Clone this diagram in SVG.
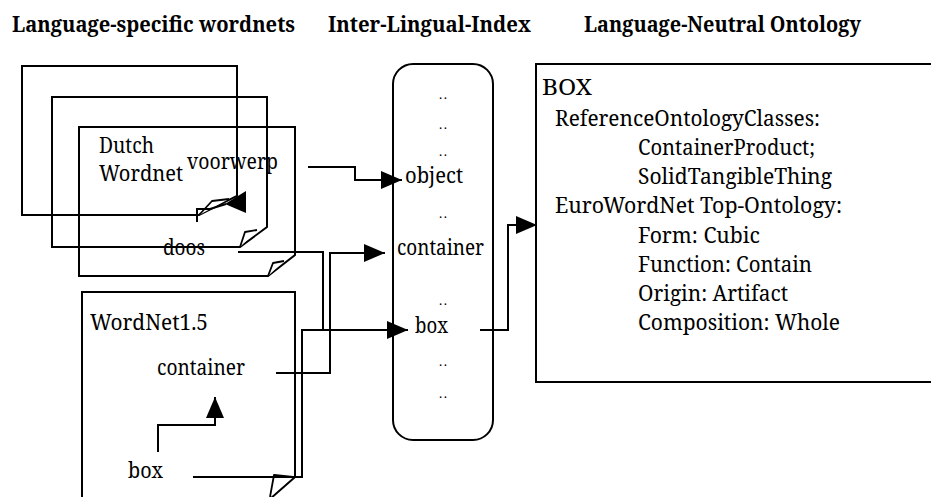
<svg xmlns="http://www.w3.org/2000/svg" width="931" height="497" viewBox="0 0 931 497">
<defs>
<style>
text{font-family:"Noto Serif","DejaVu Serif",serif;font-size:21.5px;fill:#000}
.hd{font-weight:bold;font-size:21px}
.dots{font-size:13px}
.ln{fill:none;stroke:#000;stroke-width:2}
.flap{fill:#fff;stroke:#000;stroke-width:1.8;stroke-linejoin:round}
</style>
<marker id="ah" markerUnits="userSpaceOnUse" markerWidth="22" markerHeight="20" refX="21" refY="10" orient="auto">
<path d="M0,1 L21,10 L0,19 Z" fill="#000"/>
</marker>
</defs>
<rect width="931" height="497" fill="#fff"/>

<g id="headers">
<text class="hd" x="12" y="32" textLength="283" lengthAdjust="spacingAndGlyphs">Language-specific wordnets</text>
<text class="hd" x="328" y="32" textLength="203" lengthAdjust="spacingAndGlyphs">Inter-Lingual-Index</text>
<text class="hd" x="584" y="32" textLength="277" lengthAdjust="spacingAndGlyphs">Language-Neutral Ontology</text>
</g>

<g id="dutch-wordnet">
<path class="ln" d="M22,66 H237 V196 L199,215 H22 Z"/>
<polyline class="flap" points="199,215 212,201 229,199"/>
<path class="ln" d="M52,97 H267 V227 L240,247 H52 Z"/>
<polyline class="flap" points="240,247 245,232 257,230"/>
<path class="ln" d="M79,127 H295 V255 L268,276 H79 Z"/>
<polyline class="flap" points="268,276 273,263 284,261"/>
<text x="99" y="153" textLength="55" lengthAdjust="spacingAndGlyphs">Dutch</text>
<text x="99" y="181" textLength="84" lengthAdjust="spacingAndGlyphs">Wordnet</text>
<text x="187" y="169" textLength="91" lengthAdjust="spacingAndGlyphs">voorwerp</text>
<text x="163" y="255" textLength="42" lengthAdjust="spacingAndGlyphs">doos</text>
</g>

<g id="wordnet15">
<path class="ln" d="M82,499 V292 H295 V477 L270,499"/>
<polyline class="flap" points="270,497 274,475 293,477"/>
<text x="90" y="330" textLength="118" lengthAdjust="spacingAndGlyphs">WordNet1.5</text>
<text x="157" y="375" textLength="88" lengthAdjust="spacingAndGlyphs">container</text>
<text x="128" y="478" textLength="35" lengthAdjust="spacingAndGlyphs">box</text>
</g>

<g id="ili">
<rect class="ln" x="393" y="64" width="100" height="376" rx="20" ry="20"/>
<text class="dots" x="439" y="99" textLength="8" lengthAdjust="spacing">..</text>
<text class="dots" x="439" y="129" textLength="8" lengthAdjust="spacing">..</text>
<text class="dots" x="439" y="156" textLength="8" lengthAdjust="spacing">..</text>
<text x="405" y="183" textLength="58" lengthAdjust="spacingAndGlyphs">object</text>
<text class="dots" x="439" y="218" textLength="8" lengthAdjust="spacing">..</text>
<text x="397" y="255" textLength="87" lengthAdjust="spacingAndGlyphs">container</text>
<text class="dots" x="439" y="305" textLength="8" lengthAdjust="spacing">..</text>
<text x="415" y="333" textLength="33" lengthAdjust="spacingAndGlyphs">box</text>
<text class="dots" x="439" y="366" textLength="8" lengthAdjust="spacing">..</text>
<text class="dots" x="439" y="398" textLength="8" lengthAdjust="spacing">..</text>
</g>

<g id="ontology">
<rect class="ln" x="536" y="64" width="420" height="318"/>
<text x="542" y="95" textLength="50" lengthAdjust="spacingAndGlyphs">BOX</text>
<text x="555" y="126" textLength="265" lengthAdjust="spacingAndGlyphs">ReferenceOntologyClasses:</text>
<text x="638" y="155" textLength="177" lengthAdjust="spacingAndGlyphs">ContainerProduct;</text>
<text x="638" y="184" textLength="194" lengthAdjust="spacingAndGlyphs">SolidTangibleThing</text>
<text x="555" y="213" textLength="287" lengthAdjust="spacingAndGlyphs">EuroWordNet Top-Ontology:</text>
<text x="638" y="243" textLength="122" lengthAdjust="spacingAndGlyphs">Form: Cubic</text>
<text x="638" y="272" textLength="174" lengthAdjust="spacingAndGlyphs">Function: Contain</text>
<text x="638" y="301" textLength="150" lengthAdjust="spacingAndGlyphs">Origin: Artifact</text>
<text x="638" y="330" textLength="202" lengthAdjust="spacingAndGlyphs">Composition: Whole</text>
</g>

<g id="connectors">
<path class="ln" d="M197,222 V209 H210 L226,204"/>
<polygon points="246,191 246,213 225,204" fill="#000"/>
<path class="ln" d="M308,167 H355 V180 H402" marker-end="url(#ah)"/>
<path class="ln" d="M238,252 H323 V330"/>
<path class="ln" d="M276,373 H330 V253 H385" marker-end="url(#ah)"/>
<path class="ln" d="M193,477 H302 V330 H408" marker-end="url(#ah)"/>
<path class="ln" d="M158,452 V425 H215 V397" marker-end="url(#ah)"/>
<path class="ln" d="M480,330 H508 V225 H537" marker-end="url(#ah)"/>
</g>
</svg>
